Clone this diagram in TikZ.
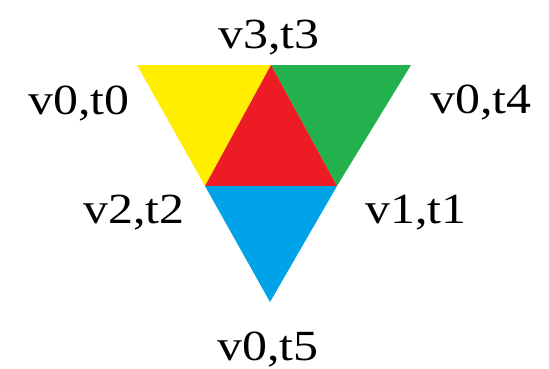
\documentclass[tikz,border=0pt]{standalone}
\usepackage{fontspec}
\setmainfont{Liberation Serif}
\definecolor{pyellow}{RGB}{255,238,0}
\definecolor{pgreen}{RGB}{34,177,76}
\definecolor{pred}{RGB}{237,28,36}
\definecolor{pblue}{RGB}{0,162,232}
\tikzset{
  lbl/.style={anchor=base west, inner sep=0pt, font=\fontsize{43}{43}\selectfont},
}
\newcommand{\lbltext}[1]{\scalebox{1.16}[1]{#1}}
\begin{document}
\begin{tikzpicture}[x=1pt,y=-1pt]
\useasboundingbox (0,0) rectangle (549,368);
\coordinate (A) at (137,65);
\coordinate (B) at (271,65);
\coordinate (C) at (411,65);
\coordinate (D) at (205,186);
\coordinate (E) at (337,186);
\coordinate (F) at (270,302);
\fill[pyellow] (A) -- (B) -- (D) -- cycle;
\fill[pgreen] (B) -- (C) -- (E) -- cycle;
\fill[pred] (B) -- (E) -- (D) -- cycle;
\fill[pblue] (D) -- (E) -- (F) -- cycle;
\node[lbl] (l3) at (218,48) {\lbltext{v3,t3}};
\node[lbl] (l0) at (28,114) {\lbltext{v0,t0}};
\node[lbl] (l4) at (430,113) {\lbltext{v0,t4}};
\node[lbl] (l2) at (83,223) {\lbltext{v2,t2}};
\node[lbl] (l1) at (365,223) {\lbltext{v1,t1}};
\node[lbl] (l5) at (217,360) {\lbltext{v0,t5}};
\end{tikzpicture}
\end{document}
